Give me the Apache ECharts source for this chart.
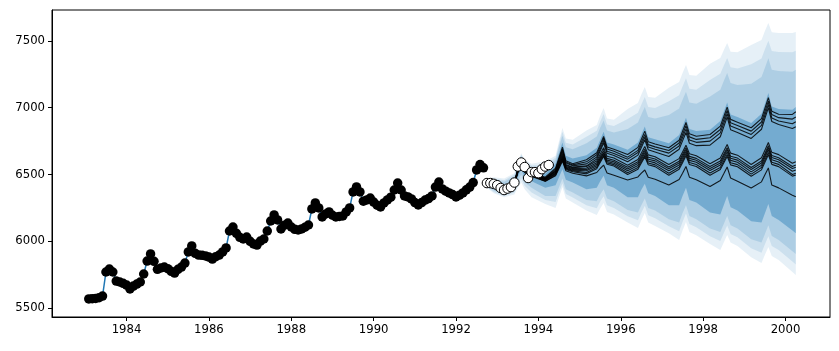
<!DOCTYPE html>
<html><head><meta charset="utf-8">
<script src="https://cdn.jsdelivr.net/npm/echarts@6/dist/echarts.min.js"></script>
<style>html,body{margin:0;padding:0;background:#fff}#c{width:839px;height:351px}</style>
</head><body><div id="c"></div>
<script>
// month index m: 1 = Jan 1983 (month-end), decimal year = 1983 + m/12
const startYear = 1983;
const obsStartMonth = 1;
const observed = [5568,5570,5572,5578,5590,5770,5792,5770,5702,5695,5685,
5672,5643,5665,5680,5695,5755,5852,5905,5850,5790,5800,5807,
5795,5775,5762,5790,5807,5837,5920,5965,5910,5897,5895,5890,
5882,5867,5885,5897,5920,5950,6077,6107,6060,6030,6017,6032,
6000,5980,5972,6002,6017,6077,6152,6197,6160,6092,6120,6137,
6107,6090,6085,6092,6105,6122,6242,6287,6250,6182,6205,6220,
6195,6182,6186,6190,6220,6250,6370,6407,6370,6300,6310,6324,
6294,6270,6257,6287,6310,6330,6384,6436,6384,6340,6332,6317,
6290,6272,6290,6309,6320,6340,6406,6444,6392,6375,6362,6350,
6332,6345,6362,6385,6406,6440,6534,6575,6550];
const heldStartMonth = 117;
const heldOut = [6436,6436,6430,6420,6399,6384,6395,6406,6440,6560,6590,6556,6474,6518,6518,6510,6540,6560,6571];

const fcMonths = [117,119,122,125,126,127,128,130, 134,137,138,139,140,142, 146,149,150,151,152,154, 158,161,162,163,164,166, 170,173,174,175,176,178, 182,185,186,187,188,190, 194,197,198,199,200,202, 206,207];

const fcLines = [
[6445,6430,6405,6445,6540,6600,6545,6515, 6480,6548,6626,6705,6604,6581, 6610,6663,6724,6785,6706,6689, 6650,6703,6764,6825,6746,6729, 6700,6757,6824,6890,6805,6786, 6800,6862,6933,7005,6913,6892, 6850,6918,6996,7075,6974,6951, 6950,6970],
[6442,6427,6402,6442,6535,6597,6540,6510, 6475,6540,6615,6690,6593,6572, 6595,6648,6709,6770,6691,6674, 6630,6681,6741,6800,6724,6707, 6680,6736,6800,6865,6782,6763, 6775,6837,6908,6980,6888,6867, 6825,6893,6971,7050,6949,6926, 6915,6930],
[6440,6425,6400,6440,6532,6593,6537,6506, 6470,6533,6607,6680,6586,6565, 6580,6631,6691,6750,6674,6657, 6615,6665,6722,6780,6706,6689, 6660,6714,6777,6840,6759,6741, 6750,6812,6883,6955,6863,6842, 6800,6868,6946,7025,6924,6901, 6880,6895],
[6438,6423,6398,6437,6528,6590,6533,6502, 6465,6525,6595,6665,6575,6555, 6565,6616,6676,6735,6659,6642, 6595,6645,6702,6760,6686,6669, 6635,6689,6752,6815,6734,6716, 6720,6783,6857,6930,6836,6815, 6770,6839,6920,7000,6897,6874, 6845,6858],
[6440,6425,6400,6438,6530,6592,6535,6505, 6470,6524,6587,6650,6569,6551, 6560,6602,6651,6700,6637,6623, 6570,6612,6661,6710,6647,6633, 6575,6619,6669,6720,6655,6640, 6580,6624,6674,6725,6660,6645, 6575,6625,6682,6740,6666,6649, 6585,6596],
[6438,6423,6398,6436,6527,6589,6532,6502, 6465,6518,6579,6640,6561,6544, 6548,6588,6634,6680,6621,6607, 6555,6596,6643,6690,6629,6616, 6557,6600,6650,6700,6636,6621, 6560,6602,6651,6700,6637,6623, 6552,6601,6658,6715,6642,6625, 6560,6571],
[6436,6421,6396,6434,6525,6587,6530,6499, 6462,6512,6571,6630,6554,6538, 6538,6576,6621,6665,6608,6595, 6542,6582,6628,6675,6615,6602, 6543,6586,6635,6685,6621,6607, 6545,6587,6636,6685,6622,6608, 6537,6586,6643,6700,6627,6610, 6545,6554],
[6434,6419,6394,6432,6522,6584,6527,6496, 6458,6507,6565,6622,6548,6532, 6528,6566,6611,6655,6598,6585, 6528,6568,6614,6660,6601,6587, 6528,6571,6620,6670,6606,6592, 6530,6571,6620,6668,6606,6592, 6520,6570,6627,6685,6611,6594, 6525,6534],
[6432,6417,6392,6430,6520,6582,6524,6493, 6455,6503,6559,6615,6543,6527, 6515,6554,6600,6645,6587,6574, 6513,6553,6599,6645,6586,6572, 6510,6554,6604,6655,6590,6575, 6512,6553,6602,6650,6588,6574, 6503,6552,6608,6665,6592,6576, 6500,6509],
[6430,6415,6390,6428,6517,6579,6521,6490, 6450,6497,6553,6608,6537,6521, 6505,6544,6590,6635,6577,6564, 6500,6540,6586,6632,6573,6559, 6495,6539,6589,6640,6575,6560, 6495,6537,6586,6635,6572,6558, 6487,6535,6592,6648,6576,6559, 6488,6496],
[6428,6412,6387,6425,6513,6575,6515,6485, 6450,6490,6545,6600,6528,6510, 6490,6515,6545,6571,6511,6495, 6459,6482,6510,6534,6480,6465, 6421,6462,6510,6560,6480,6460, 6410,6455,6505,6556,6474,6450, 6399,6445,6498,6549,6421,6400, 6345,6334]
];

// forecast bands, outer to inner
const bandOuterUp = [6470,6480,6470,6510,6590,6660,6610,6580, 6600,6640,6750,6848,6770,6760, 6830,6871,6940,6998,6920,6910, 6990,7036,7100,7155,7080,7075, 7150,7193,7260,7320,7245,7240, 7330,7373,7430,7485,7420,7415, 7470,7507,7575,7635,7565,7560, 7560,7567];
const bandOuterLo = [6400,6360,6330,6350,6400,6440,6390,6330, 6280,6250,6330,6406,6320,6290, 6230,6197,6245,6287,6220,6200, 6140,6100,6160,6212,6140,6115, 6060,6010,6080,6145,6070,6045, 5980,5935,5990,6047,5990,5965, 5880,5837,5900,5957,5890,5860, 5770,5747];
const band2Up = [6466,6470,6458,6498,6583,6650,6598,6568, 6575,6625,6728,6820,6738,6725, 6783,6828,6895,6953,6875,6863, 6915,6963,7025,7080,7005,6998, 7048,7094,7160,7220,7143,7135, 7208,7254,7315,7372,7303,7293, 7325,7368,7438,7502,7425,7418, 7415,7426];
const band2Lo = [6406,6370,6340,6365,6425,6470,6415,6365, 6310,6295,6368,6435,6355,6328, 6270,6248,6298,6338,6270,6250, 6188,6158,6215,6266,6195,6173, 6113,6075,6145,6208,6130,6105, 6038,6002,6060,6118,6055,6030, 5948,5914,5978,6038,5965,5935, 5848,5826];
const band3Up = [6462,6460,6445,6485,6575,6640,6585,6555, 6550,6610,6705,6790,6705,6690, 6735,6785,6850,6905,6830,6815, 6840,6890,6950,7005,6930,6920, 6945,6995,7060,7120,7040,7030, 7085,7135,7200,7260,7185,7170, 7180,7230,7300,7370,7285,7275, 7270,7285];
const band3Lo = [6412,6380,6350,6380,6450,6500,6440,6400, 6340,6340,6405,6470,6390,6365, 6310,6300,6350,6390,6320,6300, 6235,6215,6270,6320,6250,6230, 6165,6140,6210,6270,6190,6165, 6095,6070,6130,6190,6120,6095, 6015,5990,6055,6120,6040,6010, 5925,5905];
const bandCoreUp = [6455,6445,6420,6460,6560,6620,6565,6535, 6505,6580,6660,6740,6640,6620, 6645,6700,6760,6820,6740,6725, 6685,6740,6800,6860,6780,6765, 6735,6795,6860,6925,6840,6825, 6835,6900,6970,7040,6950,6930, 6885,6955,7030,7110,7010,6990, 6985,7005];
const bandCoreLo = [6420,6395,6365,6400,6480,6540,6480,6450, 6400,6420,6480,6540,6460,6440, 6390,6400,6450,6490,6420,6400, 6330,6330,6385,6430,6360,6340, 6270,6270,6340,6400,6310,6290, 6215,6200,6270,6340,6255,6230, 6150,6140,6210,6280,6190,6160, 6080,6060];

const xTicks = [1984,1986,1988,1990,1992,1994,1996,1998,2000];
const yTicks = [5500,6000,6500,7000,7500];

const yr = m => startYear + m / 12;
const obsData = observed.map((v, i) => [yr(obsStartMonth + i), v]);
const heldData = heldOut.map((v, i) => [yr(heldStartMonth + i), v]);
const fcX = fcMonths.map(yr);

const bands = [
  {up: bandOuterUp, lo: bandOuterLo, op: 0.11},
  {up: band2Up, lo: band2Lo, op: 0.13},
  {up: band3Up, lo: band3Lo, op: 0.17},
  {up: bandCoreUp, lo: bandCoreLo, op: 0.4}
];

const series = [];
bands.forEach((b, k) => {
  series.push({
    type: 'custom', z: 1 + k, silent: true, clip: true,
    data: fcX.map((x, i) => [x, b.up[i], b.lo[i]]),
    renderItem: function (params, api) {
      if (params.dataIndex !== 0) return null;
      const pts = [];
      for (let i = 0; i < fcX.length; i++) pts.push(api.coord([fcX[i], b.up[i]]));
      for (let i = fcX.length - 1; i >= 0; i--) pts.push(api.coord([fcX[i], b.lo[i]]));
      return {type: 'polygon', shape: {points: pts},
        style: {fill: 'rgba(31,119,180,' + b.op + ')', stroke: 'none'}};
    }
  });
});
fcLines.forEach(line => {
  series.push({type: 'line', z: 10, symbol: 'none', silent: true,
    data: fcX.map((x, i) => [x, line[i]]),
    lineStyle: {color: '#000', width: 1.1, opacity: 0.85}});
});
series.push({type: 'line', z: 11, symbol: 'none', data: obsData,
  lineStyle: {color: '#1f77b4', width: 1.5}});
series.push({type: 'scatter', z: 12, symbolSize: 9.5, data: obsData,
  itemStyle: {color: '#000', opacity: 1}});
series.push({type: 'scatter', z: 13, symbolSize: 9.5, data: heldData,
  itemStyle: {color: '#fff', borderColor: '#000', borderWidth: 1, opacity: 1}});

const chart = echarts.init(document.getElementById('c'));
const labelFont = {color: '#000', fontSize: 11.7, fontFamily: 'DejaVu Sans'};
chart.setOption({
  animation: false,
  grid: {left: 52, right: 9, top: 10, bottom: 34, show: true, borderColor: '#000', borderWidth: 1},
  xAxis: {type: 'value', min: 1982.19, max: 2001.08,
    axisLine: {show: true, lineStyle: {color: '#000', width: 1}},
    axisTick: {show: true, length: 4, lineStyle: {color: '#000'}, customValues: xTicks},
    axisLabel: Object.assign({margin: 7, customValues: xTicks, formatter: v => String(v)}, labelFont),
    splitLine: {show: false}},
  yAxis: {type: 'value', min: 5433, max: 7732,
    axisLine: {show: true, lineStyle: {color: '#000', width: 1}},
    axisTick: {show: true, length: 4, lineStyle: {color: '#000'}, customValues: yTicks},
    axisLabel: Object.assign({margin: 7, customValues: yTicks, formatter: v => String(v)}, labelFont),
    splitLine: {show: false}},
  series: series
});
</script></body></html>
